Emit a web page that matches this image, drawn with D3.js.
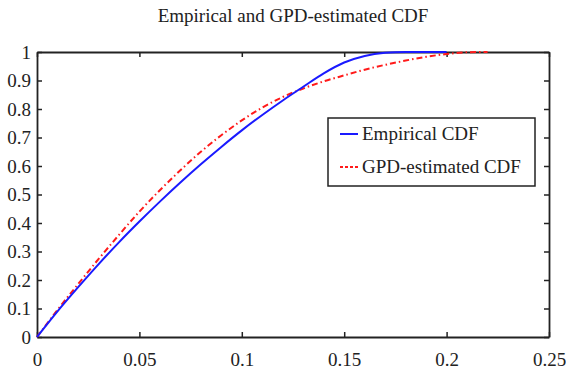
<!DOCTYPE html>
<html>
<head>
<meta charset="utf-8">
<script src="https://cdn.jsdelivr.net/npm/d3@7"></script>
<style>
  body { margin: 0; background: #fff; }
  text { font-family: "Liberation Serif", "Times New Roman", serif; fill: #222; }
  .axis path, .axis line { stroke: #222; }
</style>
</head>
<body>
<div id="chart"></div>
<script>
// values
var xValues   = [0, 0.01, 0.02, 0.03, 0.04, 0.05, 0.06, 0.07, 0.08, 0.09, 0.10, 0.11, 0.12, 0.13, 0.14, 0.15, 0.16, 0.17, 0.18, 0.19, 0.20, 0.21, 0.22];
var empirical = [0, 0.09, 0.174, 0.255, 0.332, 0.405, 0.475, 0.542, 0.606, 0.667, 0.725, 0.779, 0.83, 0.878, 0.925, 0.963, 0.986, 0.997, 1.0, 1.0, 1.0, null, null];
var gpd       = [0, 0.095, 0.185, 0.273, 0.358, 0.44, 0.515, 0.585, 0.65, 0.708, 0.76, 0.805, 0.842, 0.872, 0.897, 0.918, 0.938, 0.955, 0.97, 0.983, 0.993, 0.999, 1.0];
var xTicks = [0, 0.05, 0.1, 0.15, 0.2, 0.25];
var yTicks = [0, 0.1, 0.2, 0.3, 0.4, 0.5, 0.6, 0.7, 0.8, 0.9, 1];
var seriesNames = ["Empirical CDF", "GPD-estimated CDF"];

var width = 566;
var height = 375;
var margin = {top: 52, left: 37, right: 17, bottom: 38};

var svg = d3.select("#chart")
  .append("svg")
  .attr("width", width)
  .attr("height", height);

var xScale = d3.scaleLinear()
  .domain([0, 0.25])
  .range([margin.left, width - margin.right]);

var yScale = d3.scaleLinear()
  .domain([0, 1])
  .range([height - margin.bottom, margin.top]);

var fmt = function(d) { return String(d); };

svg.append("g")
  .attr("class", "axis")
  .attr("transform", `translate(0,${height - margin.bottom})`)
  .call(d3.axisBottom(xScale).tickValues(xTicks).tickFormat(fmt).tickSizeInner(-5).tickSizeOuter(0).tickPadding(16))
  .call(g => g.selectAll("text").attr("font-size", 19));

svg.append("g")
  .attr("class", "axis")
  .attr("transform", `translate(0,${margin.top})`)
  .call(d3.axisTop(xScale).tickValues(xTicks).tickFormat("").tickSizeInner(-5).tickSizeOuter(0));

svg.append("g")
  .attr("class", "axis")
  .attr("transform", `translate(${margin.left},0)`)
  .call(d3.axisLeft(yScale).tickValues(yTicks).tickFormat(fmt).tickSizeInner(-5).tickSizeOuter(0).tickPadding(6))
  .call(g => g.selectAll("text").attr("font-size", 19));

svg.append("g")
  .attr("class", "axis")
  .attr("transform", `translate(${width - margin.right},0)`)
  .call(d3.axisRight(yScale).tickValues(yTicks).tickFormat("").tickSizeInner(-5).tickSizeOuter(0));

svg.selectAll(".axis path").attr("stroke-width", 1.8);
svg.selectAll(".axis line").attr("stroke-width", 1.5);

var line = function(vals) {
  return d3.line()
    .defined(function(d) { return d !== null; })
    .x(function(d, i) { return xScale(xValues[i]); })
    .y(function(d) { return yScale(d); })
    .curve(d3.curveMonotoneX)(vals);
};

svg.append("path")
  .attr("d", line(gpd))
  .attr("fill", "none")
  .attr("stroke", "#ff1a1a")
  .attr("stroke-width", 2)
  .attr("stroke-dasharray", "6,3,1.5,3");

svg.append("path")
  .attr("d", line(empirical))
  .attr("fill", "none")
  .attr("stroke", "#1a1aff")
  .attr("stroke-width", 2);

// title
svg.append("text")
  .attr("x", (margin.left + width - margin.right) / 2)
  .attr("y", 22)
  .attr("text-anchor", "middle")
  .attr("font-size", 19)
  .text("Empirical and GPD-estimated CDF");

// legend
var legend = svg.append("g").attr("transform", "translate(328,118)");
legend.append("rect")
  .attr("width", 207)
  .attr("height", 68)
  .attr("fill", "#fff")
  .attr("stroke", "#222")
  .attr("stroke-width", 1.5);

var legendColors = ["#1a1aff", "#ff1a1a"];
var legendDash = [null, "3,2"];
seriesNames.forEach(function(name, i) {
  var y = 16 + i * 33;
  legend.append("line")
    .attr("x1", 12).attr("x2", 30)
    .attr("y1", y).attr("y2", y)
    .attr("stroke", legendColors[i])
    .attr("stroke-width", 2)
    .attr("stroke-dasharray", legendDash[i]);
  legend.append("text")
    .attr("x", 34)
    .attr("y", y + 6)
    .attr("font-size", 19)
    .text(name);
});
</script>
</body>
</html>
